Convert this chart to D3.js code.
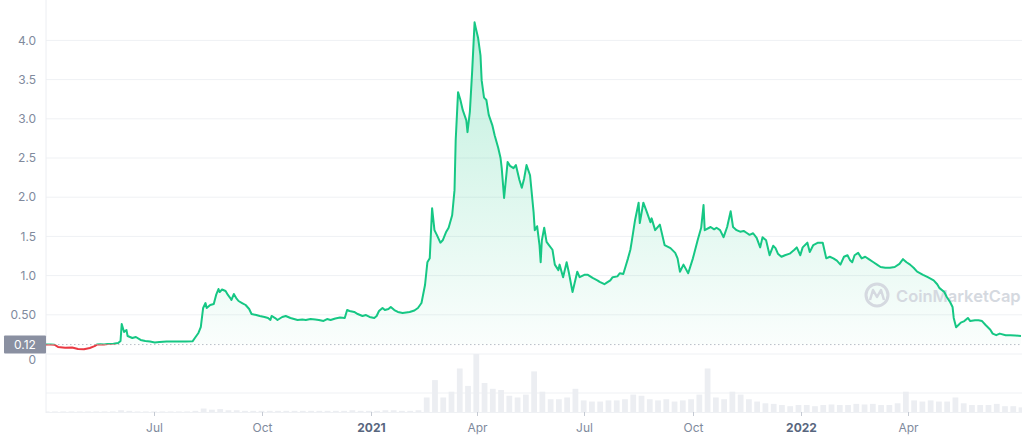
<!DOCTYPE html>
<html><head><meta charset="utf-8">
<script src="https://cdn.jsdelivr.net/npm/d3@7"></script>
<style>html,body{margin:0;padding:0;background:#fff;}svg{display:block;font-family:Inter,"Noto Sans",sans-serif;}</style>
</head><body>
<svg id="chart" width="1024" height="441"></svg>
<script>
const dates = [
"2020-03-31","2020-04-05","2020-04-08","2020-04-11","2020-04-17","2020-04-23","2020-04-28","2020-05-03","2020-05-08","2020-05-12","2020-05-14","2020-05-17","2020-05-20","2020-05-23","2020-05-28",
"2020-06-01","2020-06-03","2020-06-04","2020-06-06","2020-06-08","2020-06-09","2020-06-13","2020-06-16","2020-06-20","2020-06-24","2020-06-28",
"2020-07-02","2020-07-06","2020-07-12","2020-07-19","2020-07-28","2020-08-03","2020-08-05","2020-08-08","2020-08-10","2020-08-12","2020-08-14","2020-08-15","2020-08-18","2020-08-21","2020-08-23","2020-08-25","2020-08-26","2020-08-28","2020-08-31",
"2020-09-02","2020-09-04","2020-09-05","2020-09-07","2020-09-09","2020-09-11","2020-09-14","2020-09-17","2020-09-20","2020-09-22","2020-09-26","2020-09-29",
"2020-10-03","2020-10-06","2020-10-08","2020-10-09","2020-10-12","2020-10-14","2020-10-18","2020-10-21","2020-10-25","2020-10-28","2020-10-31",
"2020-11-04","2020-11-07","2020-11-11","2020-11-15","2020-11-18","2020-11-22","2020-11-25","2020-11-28",
"2020-12-02","2020-12-06","2020-12-10","2020-12-12","2020-12-14","2020-12-18","2020-12-21","2020-12-25","2020-12-28","2020-12-31",
"2021-01-04","2021-01-06","2021-01-08","2021-01-11","2021-01-13","2021-01-16","2021-01-18","2021-01-21","2021-01-24","2021-01-28","2021-01-31",
"2021-02-03","2021-02-07","2021-02-10","2021-02-13","2021-02-14","2021-02-16","2021-02-18","2021-02-20","2021-02-22","2021-02-24","2021-02-26",
"2021-03-01","2021-03-03","2021-03-06","2021-03-08","2021-03-11","2021-03-13","2021-03-14","2021-03-16","2021-03-18","2021-03-20","2021-03-23","2021-03-24","2021-03-26","2021-03-28","2021-03-30","2021-03-31",
"2021-04-02","2021-04-04","2021-04-05","2021-04-07","2021-04-09","2021-04-11","2021-04-14","2021-04-16","2021-04-19","2021-04-21","2021-04-22","2021-04-24","2021-04-27","2021-04-29",
"2021-05-02","2021-05-04","2021-05-07","2021-05-09","2021-05-11","2021-05-13","2021-05-16","2021-05-19","2021-05-20","2021-05-22","2021-05-24","2021-05-25","2021-05-26","2021-05-28","2021-05-30",
"2021-06-01","2021-06-04","2021-06-06","2021-06-09","2021-06-10","2021-06-13","2021-06-16","2021-06-18","2021-06-21","2021-06-25","2021-06-27",
"2021-07-01","2021-07-04","2021-07-08","2021-07-12","2021-07-14","2021-07-18","2021-07-20","2021-07-23","2021-07-25","2021-07-29","2021-07-31",
"2021-08-03","2021-08-05","2021-08-07","2021-08-09","2021-08-10","2021-08-13","2021-08-16","2021-08-17","2021-08-20","2021-08-23","2021-08-26","2021-08-27","2021-08-30",
"2021-09-03","2021-09-07","2021-09-12","2021-09-16","2021-09-18","2021-09-20","2021-09-23","2021-09-27",
"2021-10-01","2021-10-05","2021-10-08","2021-10-10","2021-10-11","2021-10-16","2021-10-19","2021-10-21","2021-10-24","2021-10-27","2021-10-30",
"2021-11-02","2021-11-04","2021-11-07","2021-11-10","2021-11-13","2021-11-16","2021-11-18","2021-11-21","2021-11-24","2021-11-27","2021-11-29",
"2021-12-02","2021-12-05","2021-12-08","2021-12-10","2021-12-12","2021-12-15","2021-12-18","2021-12-22","2021-12-26","2021-12-28","2021-12-31",
"2022-01-02","2022-01-06","2022-01-08","2022-01-11","2022-01-15","2022-01-19","2022-01-22","2022-01-25","2022-01-28","2022-01-31",
"2022-02-03","2022-02-06","2022-02-09","2022-02-11","2022-02-13","2022-02-15","2022-02-18","2022-02-21","2022-02-24","2022-02-27",
"2022-03-03","2022-03-06","2022-03-09","2022-03-13","2022-03-17","2022-03-21","2022-03-25","2022-03-28","2022-03-31",
"2022-04-03","2022-04-06","2022-04-09","2022-04-14","2022-04-18","2022-04-23","2022-04-26","2022-04-28",
"2022-05-02","2022-05-04","2022-05-07","2022-05-09","2022-05-10","2022-05-12","2022-05-14","2022-05-16","2022-05-19","2022-05-22","2022-05-24","2022-05-28","2022-05-31",
"2022-06-03","2022-06-06","2022-06-10","2022-06-12","2022-06-15","2022-06-18","2022-06-23","2022-06-27","2022-07-01","2022-07-06"
];
const prices = [
0.12,0.121,0.118,0.09,0.08,0.083,0.064,0.06,0.077,0.1,0.12,0.125,0.12,0.128,0.13,
0.14,0.166,0.383,0.281,0.306,0.23,0.204,0.217,0.179,0.166,0.159,
0.147,0.153,0.159,0.159,0.16,0.162,0.204,0.268,0.344,0.587,0.65,0.587,0.625,0.638,0.753,0.829,0.79,0.823,0.804,
0.753,0.714,0.689,0.765,0.714,0.676,0.65,0.625,0.574,0.51,0.497,0.485,
0.472,0.459,0.434,0.485,0.459,0.434,0.472,0.485,0.459,0.446,0.434,
0.44,0.434,0.446,0.44,0.434,0.421,0.446,0.434,
0.453,0.466,0.459,0.561,0.548,0.536,0.51,0.485,0.497,0.472,
0.459,0.485,0.548,0.587,0.561,0.574,0.6,0.561,0.536,0.523,0.529,
0.536,0.555,0.587,0.65,0.727,0.88,1.17,1.22,1.86,1.58,1.52,
1.42,1.45,1.56,1.61,1.77,2.09,2.73,3.34,3.24,3.11,2.98,2.83,3.09,3.62,4.23,4.16,
4.03,3.81,3.49,3.27,3.24,3.05,2.92,2.79,2.63,2.5,2.37,1.99,2.45,2.4,
2.37,2.41,2.22,2.12,2.24,2.41,2.28,1.81,1.58,1.63,1.39,1.17,1.45,1.61,1.43,
1.39,1.33,1.14,1.07,1.14,0.98,1.17,1.03,0.79,1.05,0.98,
1.01,1.01,0.97,0.94,0.92,0.89,0.91,0.94,0.98,0.99,1.03,
1.02,1.12,1.22,1.33,1.42,1.71,1.93,1.67,1.93,1.81,1.68,1.73,1.58,
1.65,1.39,1.35,1.29,1.22,1.05,1.14,1.03,
1.22,1.45,1.61,1.9,1.58,1.62,1.59,1.61,1.58,1.49,1.62,
1.82,1.62,1.58,1.56,1.57,1.54,1.52,1.54,1.48,1.36,1.49,
1.45,1.26,1.38,1.35,1.28,1.24,1.26,1.28,1.33,1.36,1.26,
1.36,1.42,1.3,1.39,1.42,1.42,1.22,1.24,1.22,1.19,
1.14,1.24,1.26,1.2,1.17,1.26,1.29,1.22,1.24,1.21,
1.17,1.14,1.11,1.1,1.1,1.11,1.15,1.21,1.17,
1.14,1.1,1.05,1.01,0.98,0.94,0.89,0.84,
0.79,0.73,0.66,0.6,0.46,0.34,0.37,0.4,0.42,0.46,0.42,0.43,0.43,
0.42,0.37,0.31,0.26,0.24,0.26,0.24,0.24,0.236,0.23
];
// weekly trading volume (relative units), weeks starting 2020-03-30
const volumeStart = "2020-03-30";
const volumes = [
1,1,1,1,1,1,1,1,1,3,2,1,1,1,1,1,1,1,2,
6,4,5,3,3,2,2,
2,2,2,2,2,2,2,2,2,2,2,3,2,2,2,3,3,2,2,3,
25,55,25,35,75,45,100,50,40,38,28,25,30,70,35,
22,22,25,40,20,18,18,20,20,22,30,28,22,20,22,18,20,22,30,75,25,22,
35,30,22,18,15,14,12,10,12,12,10,12,13,12,12,14,13,14,12,12,15,35,
20,18,20,18,18,25,15,12,12,12,14,10,10,8
];
const startPrice = 0.12;
const yTickValues = [0,0.5,1,1.5,2,2.5,3,3.5,4];
const yTickLabels = ["0","0.50","1.0","1.5","2.0","2.5","3.0","3.5","4.0"];
const xTickDates = ["2020-07-01","2020-10-01","2021-01-01","2021-04-01","2021-07-01","2021-10-01","2022-01-01","2022-04-01"];
const xTickLabels = ["Jul","Oct","2021","Apr","Jul","Oct","2022","Apr"];
const xTickBold = [false,false,true,false,false,false,true,false];

const parse = d3.utcParse("%Y-%m-%d");
const data = dates.map((d,i)=>({date:parse(d), value:prices[i]}));
const vStart = parse(volumeStart);
const vol = volumes.map((v,i)=>({date:d3.utcDay.offset(vStart,7*i), value:v}));

const svg = d3.select("#chart");
const L = 46, R = 1022;
const x = d3.scaleUtc().domain([parse("2020-03-31"), parse("2022-07-06")]).range([45, 1021]);
const y = d3.scaleLinear().domain([0,4.5]).range([354, 1.2]);
const yv = d3.scaleLinear().domain([0,100]).range([412, 354]);

const defs = svg.append("defs");
const grad = defs.append("linearGradient").attr("id","fillGrad")
  .attr("gradientUnits","userSpaceOnUse").attr("x1",0).attr("x2",0).attr("y1",y(4.25)).attr("y2",y(startPrice));
grad.append("stop").attr("offset","0%").attr("stop-color","#16c784").attr("stop-opacity",0.28);
grad.append("stop").attr("offset","100%").attr("stop-color","#16c784").attr("stop-opacity",0.02);
defs.append("clipPath").attr("id","above").append("rect").attr("x",0).attr("y",0).attr("width",1024).attr("height",y(startPrice));
defs.append("clipPath").attr("id","below").append("rect").attr("x",0).attr("y",y(startPrice)).attr("width",1024).attr("height",441-y(startPrice));
defs.append("clipPath").attr("id","plot").append("rect").attr("x",L).attr("y",0).attr("width",R-L).attr("height",441);

// gridlines
svg.append("g").selectAll("line").data(yTickValues).join("line")
  .attr("x1",L).attr("x2",R).attr("y1",d=>y(d)).attr("y2",d=>y(d))
  .attr("stroke","#eff1f4").attr("stroke-width",1);
// volume panel lines
[yv(0)+0.5, 393].forEach(v=>{
  svg.append("line").attr("x1",L).attr("x2",R).attr("y1",v).attr("y2",v).attr("stroke","#eff1f4");
});
// left axis line
svg.append("line").attr("x1",L).attr("x2",L).attr("y1",0).attr("y2",413).attr("stroke","#eceef2");

// volume bars
svg.append("g").attr("clip-path","url(#plot)").selectAll("rect").data(vol).join("rect")
  .attr("x",d=>x(d.date))
  .attr("width",d=>Math.max(1, x(d3.utcDay.offset(d.date,7))-x(d.date)-2.5))
  .attr("y",d=>yv(d.value)).attr("height",d=>yv(0)-yv(d.value))
  .attr("fill","#eceef2");

// area
const area = d3.area().x(d=>x(d.date)).y0(y(startPrice)).y1(d=>y(d.value));
svg.append("path").datum(data).attr("d",area).attr("fill","url(#fillGrad)").attr("clip-path","url(#above)");

// watermark
const wm = svg.append("g");
wm.append("circle").attr("cx",877).attr("cy",295).attr("r",11).attr("fill","none").attr("stroke","#d5d9e0").attr("stroke-width",3);
wm.append("path").attr("d","M870,300 L873,290 L877,297 L881,290 L884,300").attr("fill","none").attr("stroke","#d5d9e0").attr("stroke-width",2.5).attr("stroke-linejoin","round");
wm.append("text").attr("x",896).attr("y",301.5).attr("font-size",16.5).attr("font-weight",600)
  .attr("fill","#d5d9e0").text("CoinMarketCap");

// dotted start line
svg.append("line").attr("x1",L).attr("x2",R).attr("y1",y(startPrice)).attr("y2",y(startPrice))
  .attr("stroke","#b8bdc7").attr("stroke-width",1).attr("stroke-dasharray","1.5,2.5");

// price line
const line = d3.line().x(d=>x(d.date)).y(d=>y(d.value));
svg.append("path").datum(data).attr("d",line).attr("fill","none").attr("stroke","#16c784")
  .attr("stroke-width",2).attr("stroke-linejoin","round").attr("clip-path","url(#above)");
svg.append("path").datum(data).attr("d",line).attr("fill","none").attr("stroke","#ea3943")
  .attr("stroke-width",2).attr("stroke-linejoin","round").attr("clip-path","url(#below)");

// y labels
svg.append("g").selectAll("text").data(yTickValues).join("text")
  .attr("x",36).attr("y",d=>d===0 ? y(d)+5.5 : y(d)).attr("dy","0.35em").attr("text-anchor","end")
  .attr("font-size",12).attr("fill","#808a9d").text((d,i)=>yTickLabels[i]);

// start price box
svg.append("rect").attr("x",4).attr("y",y(startPrice)-9).attr("width",42).attr("height",18).attr("fill","#8a90a1").attr("rx",1);
svg.append("text").attr("x",25).attr("y",y(startPrice)).attr("dy","0.36em").attr("text-anchor","middle")
  .attr("font-size",12).attr("fill","#ffffff").text(startPrice.toFixed(2));

// x ticks
const xg = svg.append("g");
xTickDates.forEach((d,i)=>{
  const xp = Math.round(x(parse(d)))+0.5;
  xg.append("line").attr("x1",xp).attr("x2",xp).attr("y1",412).attr("y2",416).attr("stroke","#c5cad3");
  xg.append("text").attr("x",xp).attr("y",432).attr("text-anchor","middle")
    .attr("font-size",12).attr("font-weight",xTickBold[i]?700:400)
    .attr("fill",xTickBold[i]?"#58667e":"#808a9d").text(xTickLabels[i]);
});
</script>
</body></html>
